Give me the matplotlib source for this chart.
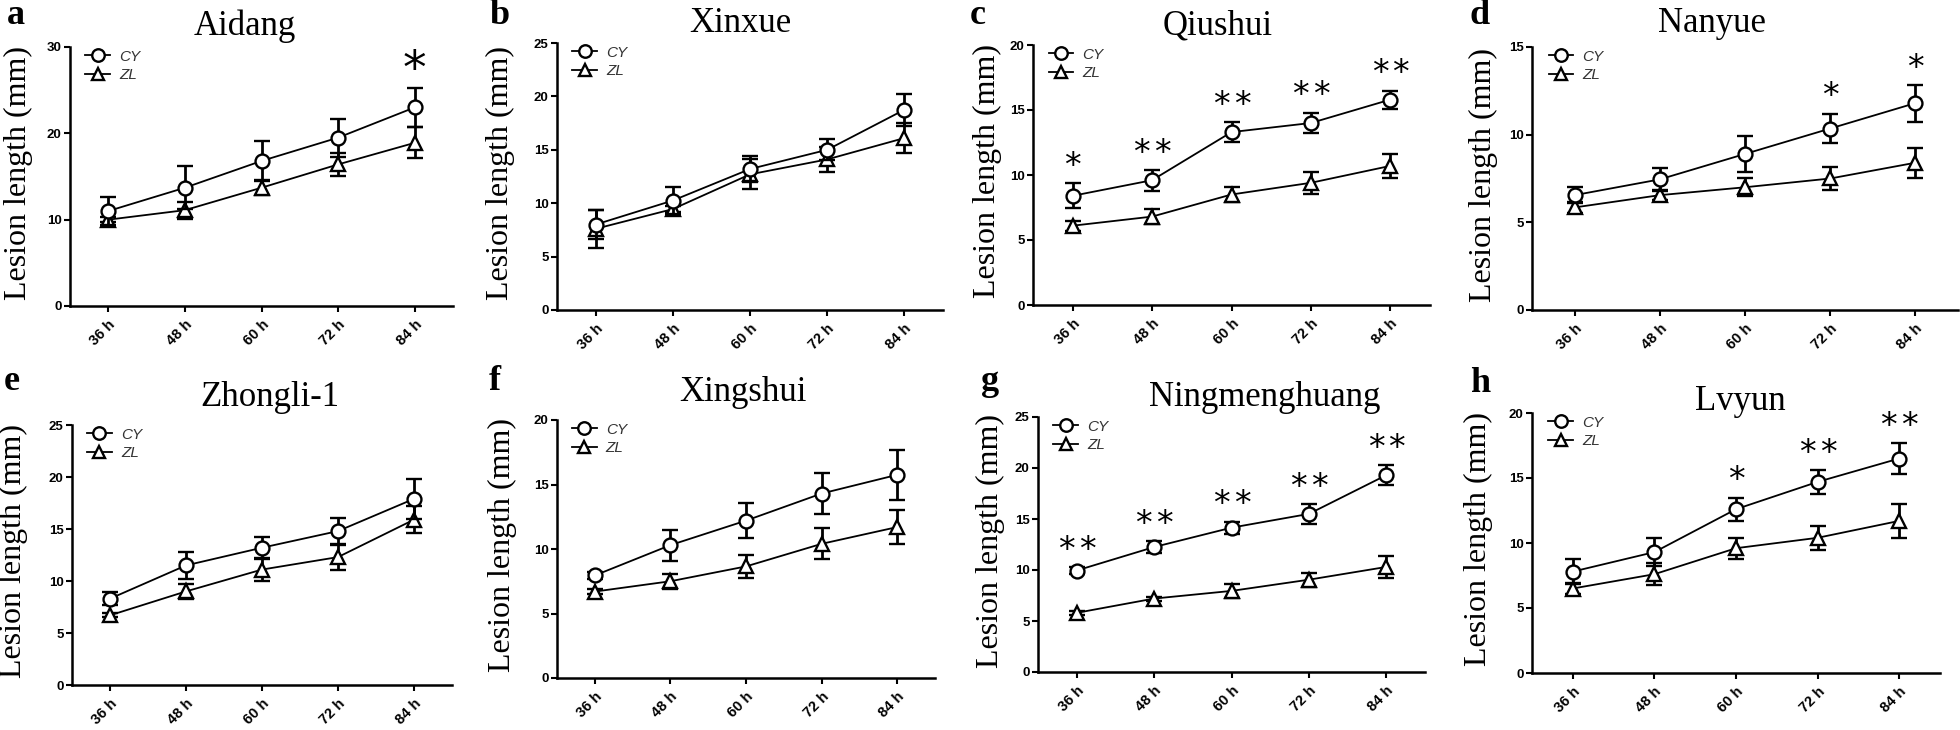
import matplotlib
matplotlib.use("Agg")
import matplotlib.pyplot as plt
from matplotlib.lines import Line2D
import numpy as np

# ---- data (mm, mean and error bar half-length) ----
times = ["36 h", "48 h", "60 h", "72 h", "84 h"]
cultivars = ["Aidang", "Xinxue", "Qiushui", "Nanyue",
             "Zhongli-1", "Xingshui", "Ningmenghuang", "Lvyun"]
letters = ["a", "b", "c", "d", "e", "f", "g", "h"]

cy_mean = [
    [11.0, 13.7, 16.8, 19.5, 23.0],
    [8.0, 10.25, 13.2, 15.0, 18.75],
    [8.4, 9.6, 13.3, 14.0, 15.8],
    [6.55, 7.45, 8.9, 10.35, 11.8],
    [8.3, 11.5, 13.2, 14.8, 17.9],
    [7.95, 10.3, 12.2, 14.3, 15.75],
    [9.95, 12.25, 14.15, 15.5, 19.3],
    [7.8, 9.3, 12.6, 14.7, 16.5],
]
cy_err = [
    [1.6, 2.5, 2.3, 2.2, 2.3],
    [1.35, 1.25, 1.2, 1.0, 1.5],
    [0.95, 0.8, 0.75, 0.8, 0.7],
    [0.45, 0.65, 1.05, 0.85, 1.05],
    [0.6, 1.3, 1.05, 1.25, 1.9],
    [0.3, 1.2, 1.35, 1.6, 1.95],
    [0.35, 0.6, 0.6, 1.0, 1.0],
    [0.95, 1.1, 0.9, 0.9, 1.2],
]
zl_mean = [
    [10.0, 11.1, 13.7, 16.4, 18.9],
    [7.6, 9.45, 12.7, 14.1, 16.1],
    [6.1, 6.8, 8.5, 9.4, 10.7],
    [5.85, 6.55, 7.0, 7.5, 8.4],
    [6.7, 9.0, 11.1, 12.3, 15.9],
    [6.7, 7.5, 8.65, 10.4, 11.7],
    [5.8, 7.2, 7.95, 9.05, 10.3],
    [6.5, 7.6, 9.6, 10.4, 11.7],
]
zl_err = [
    [0.3, 1.0, 0.9, 1.3, 1.8],
    [1.8, 0.3, 1.4, 1.2, 1.4],
    [0.4, 0.6, 0.6, 0.85, 0.95],
    [0.3, 0.3, 0.5, 0.65, 0.85],
    [0.2, 0.75, 1.1, 1.2, 1.3],
    [0.2, 0.6, 0.9, 1.2, 1.35],
    [0.2, 0.2, 0.7, 0.7, 1.1],
    [0.45, 0.85, 0.8, 0.9, 1.3],
]
stars = [
    ["", "", "", "", "*"],
    ["", "", "", "", ""],
    ["*", "**", "**", "**", "**"],
    ["", "", "", "*", "*"],
    ["", "", "", "", ""],
    ["", "", "", "", ""],
    ["**", "**", "**", "**", "**"],
    ["", "", "*", "**", "**"],
]
y_max = [30, 25, 20, 15, 25, 20, 25, 20]
y_step = [10, 5, 5, 5, 5, 5, 5, 5]

# ---- layout, in pixels of the 1960x730 canvas: left, top, right, bottom ----
W, H = 1960, 730
AXES_PX = [
    (70, 47, 453, 306), (557, 43, 943, 310), (1033, 45, 1430, 305), (1532, 47, 1958, 310),
    (72, 425, 452, 685), (557, 420, 935, 678), (1038, 417, 1425, 672), (1532, 413, 1940, 673),
]
TITLE_PX = [(245, 26), (740, 23), (1218, 26), (1712, 24),
            (270, 398), (743, 393), (1265, 398), (1740, 401)]
LETTER_PX = [(16, 16), (500, 16), (978, 16), (1480, 16),
             (12, 381), (495, 381), (990, 381), (1480, 384)]
YLABEL_DX = [52, 57, 46, 49, 59, 55, 48, 54]
STAR_SIZE = [34, 24, 24, 24, 24, 24, 24, 24]

SERIF = "Liberation Serif"
SANS = "Liberation Sans"
LW = 1.3

fig = plt.figure(figsize=(W / 100, H / 100), dpi=100)


def to_fig(x, y):
    return x / W, 1 - y / H


for i in range(8):
    l, t, r, b = AXES_PX[i]
    ax = fig.add_axes([l / W, 1 - b / H, (r - l) / W, (b - t) / H])
    x = np.arange(len(times))

    style = dict(color="black", lw=LW, ms=10, mfc="white", mec="black", mew=1.7,
                 capsize=6, capthick=2.0, elinewidth=2.0)
    ax.errorbar(x, zl_mean[i], yerr=zl_err[i], marker="^", zorder=3, **style)
    ax.errorbar(x, cy_mean[i], yerr=cy_err[i], marker="o", zorder=4, **style)

    # significance marks: one asterisk per character, spread a little apart
    for j, s in enumerate(stars[i]):
        n = len(s)
        for k in range(n):
            dx = (k - (n - 1) / 2) * 15
            ax.annotate("*", (x[j], cy_mean[i][j] + cy_err[i][j]), xytext=(dx, 12),
                        textcoords="offset points", ha="center", va="center",
                        fontsize=STAR_SIZE[i], family="DejaVu Sans", color="black")

    ax.set_xlim(-0.5, len(times) - 0.5)
    ax.set_ylim(0, y_max[i])
    ax.set_yticks(np.arange(0, y_max[i] + 0.1, y_step[i]))
    ax.set_xticks(x)
    ax.set_xticklabels(times, rotation=45, ha="right", rotation_mode="anchor")
    for lab in ax.get_xticklabels():
        lab.set_fontfamily(SANS)
        lab.set_fontweight("bold")
        lab.set_fontsize(10.5)
    for lab in ax.get_yticklabels():
        lab.set_fontfamily(SANS)
        lab.set_fontweight("bold")
        lab.set_fontsize(9.5)
    ax.tick_params(axis="both", direction="out", length=4, width=1.5, pad=2, color="black")
    ax.tick_params(axis="x", pad=4)
    for side in ["top", "right"]:
        ax.spines[side].set_visible(False)
    for side in ["left", "bottom"]:
        ax.spines[side].set_linewidth(1.8)
    ax.patch.set_visible(False)

    handles = [
        Line2D([], [], color="black", lw=LW, marker="o", ms=9, mfc="white", mew=1.7),
        Line2D([], [], color="black", lw=LW, marker="^", ms=9, mfc="white", mew=1.7),
    ]
    leg = ax.legend(handles, ["CY", "ZL"], loc="upper left", bbox_to_anchor=(0.04, 0.99),
                    frameon=False, handlelength=1.6, handletextpad=0.6, labelspacing=0.3,
                    borderpad=0, borderaxespad=0,
                    prop={"family": SANS, "style": "italic", "size": 11})
    for txt in leg.get_texts():
        txt.set_color("#333333")

    fx, fy = to_fig(*TITLE_PX[i])
    fig.text(fx, fy, cultivars[i], ha="center", va="center", family=SERIF, fontsize=25)
    fx, fy = to_fig(*LETTER_PX[i])
    fig.text(fx, fy, letters[i], ha="center", va="center", family=SERIF,
             fontsize=26, fontweight="bold")
    fx, fy = to_fig(l - YLABEL_DX[i], (t + b) / 2 - 4)
    fig.text(fx, fy, "Lesion length (mm)", ha="center", va="center", rotation=90,
             family=SERIF, fontsize=23)

fig.savefig("out.png", dpi=100, facecolor="white")
